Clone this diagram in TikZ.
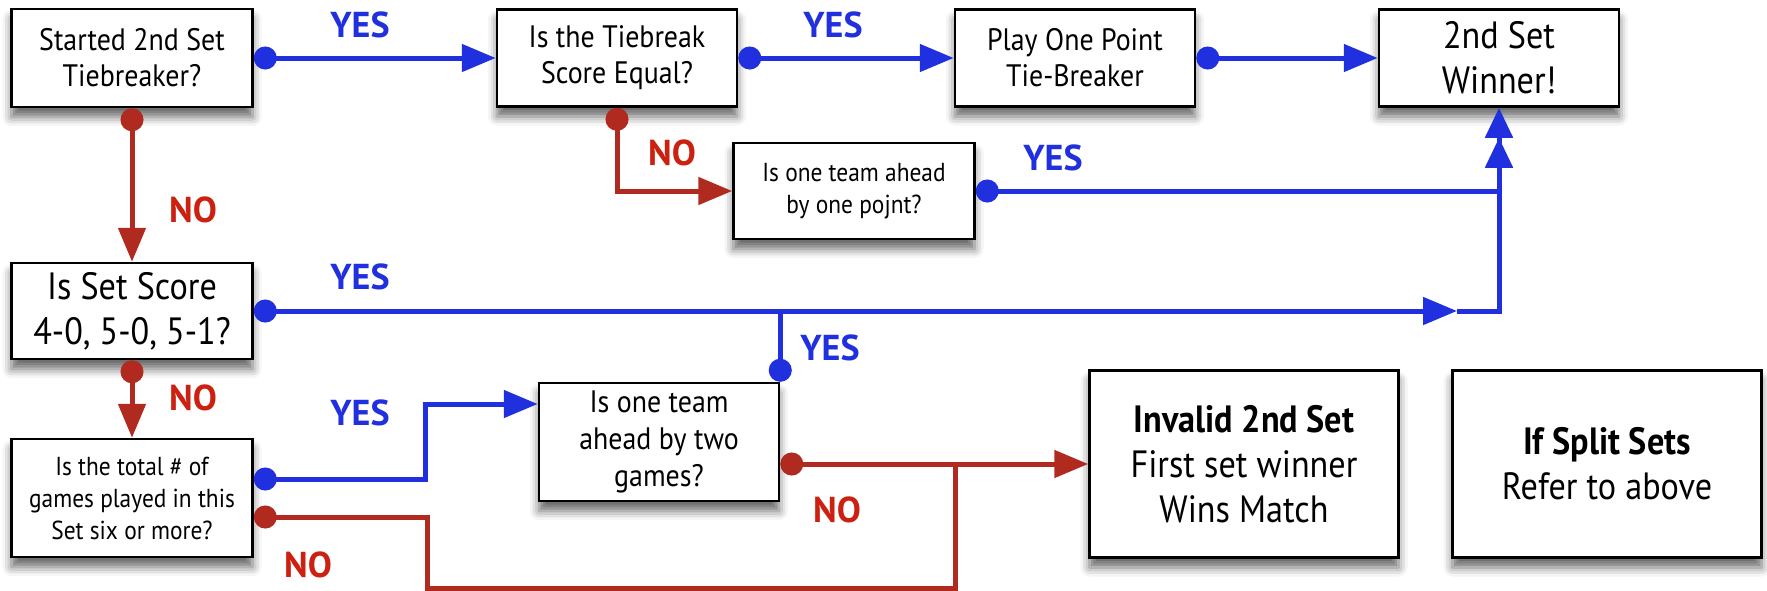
\documentclass[tikz,border=0pt]{standalone}
\usepackage{fontspec}
\setmainfont{PT Sans}
\newfontfamily\kastenfont[FakeStretch=0.9]{PT Sans}
\usetikzlibrary{arrows.meta,shadows.blur}

\definecolor{jablau}{RGB}{33,48,222}
\definecolor{neinrot}{RGB}{176,42,32}
\definecolor{neintext}{RGB}{204,32,16}

% Schriftgroessen
\newcommand{\klein}{\kastenfont\fontsize{26}{32}\selectfont}
\newcommand{\mittel}{\kastenfont\fontsize{31}{36}\selectfont}
\newcommand{\gross}{\kastenfont\fontsize{38}{45}\selectfont}

\tikzset{
  kasten/.style={draw, line width=2.5pt, fill=white, align=center, inner sep=0pt,
    blur shadow={shadow xshift=0pt, shadow yshift=-10pt, shadow blur radius=9pt, shadow opacity=60}},
  ja/.style={draw=jablau, line width=5pt, {Circle[length=23pt]}-{Triangle[length=34pt,width=27pt]}},
  jaende/.style={draw=jablau, line width=5pt, {Circle[length=23pt]}-},
  nein/.style={draw=neinrot, line width=5pt, {Circle[length=23pt]}-{Triangle[length=34pt,width=27pt]}},
  neinende/.style={draw=neinrot, line width=5pt, {Circle[length=23pt]}-},
  jatext/.style={text=jablau, font=\fontsize{36}{40}\selectfont\bfseries},
  neintext/.style={text=neintext, font=\fontsize{36}{40}\selectfont\bfseries}
}

\begin{document}
\begin{tikzpicture}[x=1pt,y=-1pt]
  \useasboundingbox (0,0) rectangle (1767,590);

  % Kaesten oben
  \node[kasten, minimum width=241pt, minimum height=98pt, font=\mittel] (start) at (132,58) {Started 2nd Set\\Tiebreaker?};
  \node[kasten, minimum width=240pt, minimum height=97pt, font=\mittel] (gleich) at (617,58) {Is the Tiebreak\\Score Equal?};
  \node[kasten, minimum width=240pt, minimum height=97pt, font=\mittel] (spiel) at (1075,58) {Play One Point\\Tie-Breaker};
  \node[kasten, minimum width=240pt, minimum height=97pt, font=\gross] (sieger) at (1499,58) {2nd Set\\Winner!};
  \node[kasten, minimum width=241pt, minimum height=96pt, font=\klein] (einpunkt) at (854,191) {Is one team ahead\\by one pojnt?};

  % Kaesten unten
  \node[kasten, minimum width=241pt, minimum height=96pt, font=\gross] (satz) at (132,311) {Is Set Score\\4-0, 5-0, 5-1?};
  \node[kasten, minimum width=240pt, minimum height=118pt, font=\kastenfont\fontsize{31}{37}\selectfont] (zweispiele) at (659,442) {Is one team\\ahead by two\\games?};
  \node[kasten, minimum width=241pt, minimum height=118pt, font=\klein] (anzahl) at (132,498) {Is the total \# of\\games played in this\\Set six or more?};
  \node[kasten, minimum width=309pt, minimum height=187pt, font=\gross] (ungueltig) at (1244,464) {\textbf{Invalid 2nd Set}\\First set winner\\Wins Match};
  \node[kasten, minimum width=309pt, minimum height=187pt, font=\gross] (geteilt) at (1607,464) {\textbf{If Split Sets}\\Refer to above};

  % Hilfspunkte
  \coordinate (ecke) at (1457,311);
  \coordinate (knick) at (955,464);

  % JA-Pfeile
  \draw[ja] (start) -- (gleich);
  \draw[ja] (gleich) -- (spiel);
  \draw[ja] (spiel) -- (sieger);
  \draw[jaende] (einpunkt.east) -- (einpunkt.east -| sieger.south);
  \draw[ja] (satz.east) -- (ecke);
  \draw[draw=jablau, line width=5pt, -{Triangle[length=30pt,width=27pt]Triangle[length=30pt,width=27pt]}]
    (ecke) -- (ecke -| sieger.south) -- (sieger.south);
  \draw[jaende] (zweispiele.north east) -- (zweispiele.north east |- satz.east);
  \draw[ja] ([yshift=19pt]anzahl.east) -- ++(172,0) |- ([yshift=38pt]zweispiele.west);

  % NEIN-Pfeile
  \draw[nein] (start) -- (satz);
  \draw[nein] (satz) -- (anzahl);
  \draw[nein] (gleich.south) |- (einpunkt.west);
  \draw[nein] (zweispiele.east |- ungueltig.west) -- (ungueltig.west);
  \draw[neinende] ([yshift=-19pt]anzahl.east) -- ++(174,0) |- (955,588) -- (knick);

  % Beschriftungen
  \node[jatext] (j1) at (360,25) {YES};
  \node[jatext] (j2) at (833,25) {YES};
  \node[jatext] (j3) at (1053,158) {YES};
  \node[jatext] (j4) at (360,277) {YES};
  \node[jatext] (j5) at (830,348) {YES};
  \node[jatext] (j6) at (360,413) {YES};
  \node[neintext] (n1) at (672,153) {NO};
  \node[neintext] (n2) at (193,210) {NO};
  \node[neintext] (n3) at (193,398) {NO};
  \node[neintext] (n4) at (837,510) {NO};
  \node[neintext] (n5) at (308,565) {NO};
\end{tikzpicture}
\end{document}
